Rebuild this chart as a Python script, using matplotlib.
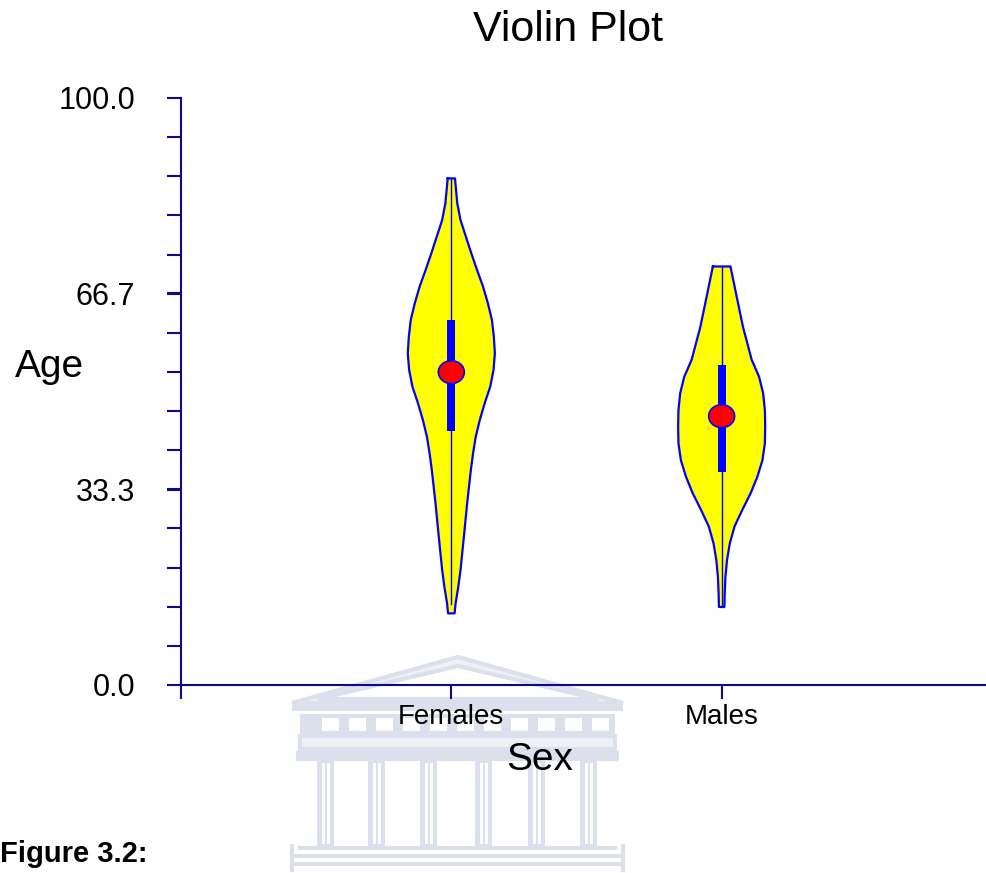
import matplotlib
matplotlib.use("Agg")
import matplotlib.pyplot as plt
import numpy as np
from matplotlib.patches import Rectangle, Ellipse, Polygon

plt.rcParams['font.family'] = ['Liberation Sans', 'DejaVu Sans']

# ---------------- data ----------------
categories = ["Females", "Males"]

# violin profiles: ages and relative density (max = 1)
fem_age = [86.3, 82.1, 79.2, 76.4, 73.5, 70.7, 67.9, 65.0, 62.2, 59.3, 56.5, 53.7,
           50.8, 48.0, 45.1, 42.3, 39.5, 36.6, 31.0, 25.3, 19.6, 16.7, 13.9, 12.2]
fem_dens = [0.084, 0.136, 0.211, 0.334, 0.461, 0.591, 0.727, 0.841, 0.932, 0.977, 1.0, 0.97,
            0.893, 0.766, 0.652, 0.561, 0.5, 0.448, 0.364, 0.289, 0.211, 0.159, 0.098, 0.075]

male_age = [71.3, 66.7, 61.0, 55.4, 52.5, 49.7, 46.8, 44.0, 41.2, 38.3, 35.5, 32.7,
            29.8, 27.0, 24.1, 21.3, 18.4, 15.6, 13.3]
male_dens = [0.202, 0.33, 0.49, 0.69, 0.86, 0.953, 0.993, 1.0, 0.993, 0.937, 0.821, 0.667,
             0.472, 0.295, 0.186, 0.123, 0.086, 0.07, 0.063]

q1 = [43.3, 36.3]
q3 = [62.2, 54.5]
medians = [53.3, 45.8]
mins = [13.8, 13.3]
maxs = [86.3, 71.3]

y_major = [0.0, 33.3, 66.7, 100.0]
y_major_labels = ["0.0", "33.3", "66.7", "100.0"]

# ---------------- styling ----------------
W, H = 987, 873
navy = "#0A0A8C"
fig = plt.figure(figsize=(W / 100, H / 100), dpi=100)

# watermark layer (pixel coordinates)
wm = fig.add_axes([0, 0, 1, 1], zorder=0)
wm.set_xlim(0, W)
wm.set_ylim(H, 0)
wm.axis("off")
wc = "#DCDFEC"
wl = "#EFF0F6"
lw_w = 3.0
# pediment
wm.add_patch(Polygon([[292, 703], [458, 657], [623, 703]], closed=True, fc=wl, ec=wc, lw=lw_w))
wm.add_patch(Polygon([[318, 699], [458, 666], [598, 699]], closed=True, fc="white", ec=wc, lw=lw_w))
wm.add_patch(Rectangle((292, 703), 331, 8, fc=wc, ec="none"))
# triglyph band
wm.add_patch(Rectangle((300, 714), 315, 20, fc=wc, ec="none"))
for x0 in np.arange(322, 600, 27):
    wm.add_patch(Rectangle((x0, 718), 17, 13, fc="white", ec="none"))
# architrave
wm.add_patch(Rectangle((300, 736), 315, 13, fc=wl, ec=wc, lw=lw_w))
wm.add_patch(Rectangle((296, 751), 323, 10, fc=wc, ec="none"))
# columns
for cx in [317, 368, 420, 475, 528, 580]:
    wm.add_patch(Rectangle((cx, 761), 17, 85, fc=wc, ec="none"))
    wm.add_patch(Rectangle((cx + 5, 763), 3, 81, fc="white", ec="none"))
    wm.add_patch(Rectangle((cx + 10, 763), 3, 81, fc="white", ec="none"))
# steps
for yy, x0, x1 in [(848, 300, 615), (856, 296, 619), (864, 292, 623)]:
    wm.plot([x0, x1], [yy, yy], color=wc, lw=lw_w)
wm.plot([292, 292], [846, 870], color=wc, lw=lw_w)
wm.plot([623, 623], [846, 870], color=wc, lw=lw_w)

# main axes
ax = fig.add_axes([181 / W, 1 - 685 / H, 811 / W, 587 / H], zorder=2)
ax.patch.set_alpha(0)
ax.set_xlim(0, 3)
ax.set_ylim(0, 100)

half_max = 0.161
profiles = [(fem_age, fem_dens), (male_age, male_dens)]
for i, (ages, dens) in enumerate(profiles):
    x = i + 1
    a = np.array(ages)
    d = np.array(dens) * half_max
    ax.fill_betweenx(a, x - d, x + d, facecolor="#FFFF00", edgecolor="none", zorder=2)
    xs = np.concatenate([x - d, (x + d)[::-1], [x - d[0]]])
    ys = np.concatenate([a, a[::-1], [a[0]]])
    ax.plot(xs, ys, color="#0000FF", lw=1.6, zorder=3, solid_joinstyle="round")
    ax.plot([x, x], [mins[i], maxs[i]], color="#0000FF", lw=1.0, zorder=4)
    bw = 0.03
    ax.add_patch(Rectangle((x - bw / 2, q1[i]), bw, q3[i] - q1[i], fc="#0000FF", ec="none", zorder=5))
    ax.add_patch(Ellipse((x, medians[i]), 0.096, 3.9, fc="#FF0000", ec="#0000FF", lw=1.2, zorder=6))

for s in ["top", "right"]:
    ax.spines[s].set_visible(False)
for s in ["left", "bottom"]:
    ax.spines[s].set_color(navy)
    ax.spines[s].set_linewidth(1.5)

ax.set_yticks(y_major)
ax.set_yticklabels(y_major_labels)
ax.set_yticks(np.arange(0, 100.01, 100 / 15), minor=True)
ax.tick_params(axis="y", which="both", length=10, width=1.5, color=navy, direction="out")
ax.tick_params(axis="y", which="major", labelsize=22, pad=23)
ax.set_xticks([0, 1, 2, 3])
ax.set_xticklabels([""] + categories + [""])
ax.tick_params(axis="x", length=10, width=1.5, color=navy, labelsize=20, pad=4)

fig.text(568 / W, 1 - 41 / H, "Violin Plot", ha="center", va="baseline", fontsize=31)
fig.text(15 / W, 1 - 377 / H, "Age", ha="left", va="baseline", fontsize=28)
fig.text(540 / W, 1 - 770 / H, "Sex", ha="center", va="baseline", fontsize=28)
fig.text(0.5 / W, 1 - 862 / H, "Figure 3.2:", ha="left", va="baseline", fontsize=21, fontweight="bold")

fig.savefig("out.png", dpi=100)
